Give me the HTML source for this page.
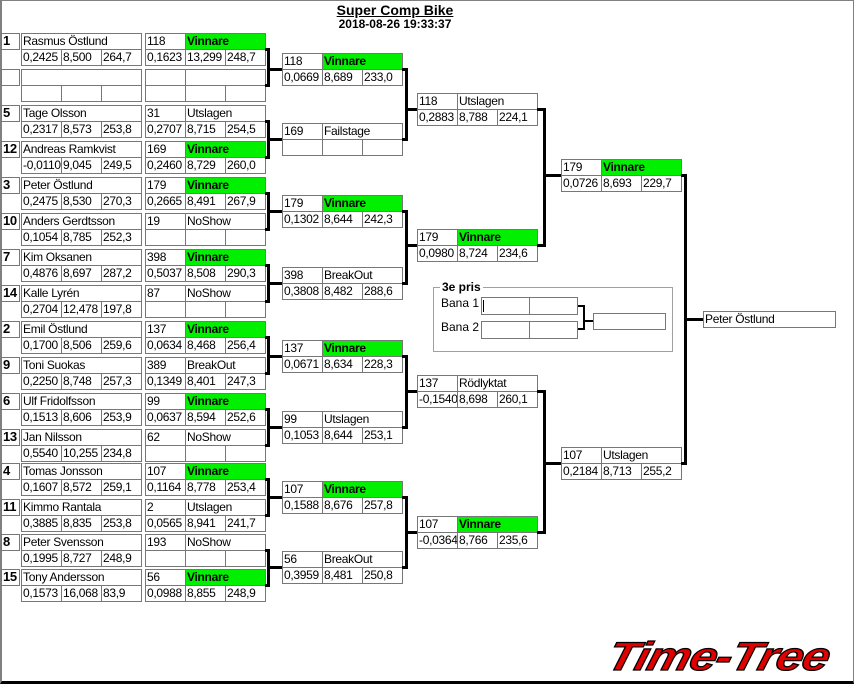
<!DOCTYPE html>
<html><head><meta charset="utf-8"><style>
html,body{margin:0;padding:0;}
body{width:854px;height:684px;position:relative;overflow:hidden;background:#fff;font-family:"Liberation Sans",sans-serif;}
.f{position:absolute;left:0;top:0;width:854px;height:684px;box-sizing:border-box;border-left:2px solid #808080;border-top:1px solid #808080;border-right:1px solid #808080;border-bottom:3px solid #000;}
.c{position:absolute;box-sizing:border-box;border:1px solid #777;height:17px;width:41px;font-size:12px;letter-spacing:-0.3px;line-height:14px;padding-left:1px;white-space:nowrap;overflow:hidden;background:#fff;color:#000;}
.w{width:121px}.w2{width:81px}
.g{background:#00f000;font-weight:bold;}
.s{width:19px;font-weight:bold;font-size:13px;}
.l{position:absolute;background:#000;}
.t{position:absolute;font-weight:bold;font-size:13px;text-align:center;width:300px;left:245px;}
</style></head><body>
<div class="f"></div>
<div class="t" style="top:2px;text-decoration:underline;font-size:14px">Super Comp Bike</div>
<div class="t" style="top:17px;font-size:12px">2018-08-26 19:33:37</div>

<div class="c s" style="left:1px;top:33px">1</div><div class="c w" style="left:21px;top:33px">Rasmus Östlund</div>
<div class="c" style="left:21px;top:49px">0,2425</div><div class="c" style="left:61px;top:49px">8,500</div><div class="c" style="left:101px;top:49px">264,7</div>
<div class="c" style="left:145px;top:33px">118</div><div class="c w2 g" style="left:185px;top:33px">Vinnare</div>
<div class="c" style="left:145px;top:49px">0,1623</div><div class="c" style="left:185px;top:49px">13,299</div><div class="c" style="left:225px;top:49px">248,7</div>

<div class="c s" style="left:1px;top:69px"></div><div class="c w" style="left:21px;top:69px"></div>
<div class="c" style="left:21px;top:85px"></div><div class="c" style="left:61px;top:85px"></div><div class="c" style="left:101px;top:85px"></div>
<div class="c" style="left:145px;top:69px"></div><div class="c w2" style="left:185px;top:69px"></div>
<div class="c" style="left:145px;top:85px"></div><div class="c" style="left:185px;top:85px"></div><div class="c" style="left:225px;top:85px"></div>

<div class="c s" style="left:1px;top:105px">5</div><div class="c w" style="left:21px;top:105px">Tage Olsson</div>
<div class="c" style="left:21px;top:121px">0,2317</div><div class="c" style="left:61px;top:121px">8,573</div><div class="c" style="left:101px;top:121px">253,8</div>
<div class="c" style="left:145px;top:105px">31</div><div class="c w2" style="left:185px;top:105px">Utslagen</div>
<div class="c" style="left:145px;top:121px">0,2707</div><div class="c" style="left:185px;top:121px">8,715</div><div class="c" style="left:225px;top:121px">254,5</div>

<div class="c s" style="left:1px;top:141px">12</div><div class="c w" style="left:21px;top:141px">Andreas Ramkvist</div>
<div class="c" style="left:21px;top:157px">-0,0110</div><div class="c" style="left:61px;top:157px">9,045</div><div class="c" style="left:101px;top:157px">249,5</div>
<div class="c" style="left:145px;top:141px">169</div><div class="c w2 g" style="left:185px;top:141px">Vinnare</div>
<div class="c" style="left:145px;top:157px">0,2460</div><div class="c" style="left:185px;top:157px">8,729</div><div class="c" style="left:225px;top:157px">260,0</div>

<div class="c s" style="left:1px;top:177px">3</div><div class="c w" style="left:21px;top:177px">Peter Östlund</div>
<div class="c" style="left:21px;top:193px">0,2475</div><div class="c" style="left:61px;top:193px">8,530</div><div class="c" style="left:101px;top:193px">270,3</div>
<div class="c" style="left:145px;top:177px">179</div><div class="c w2 g" style="left:185px;top:177px">Vinnare</div>
<div class="c" style="left:145px;top:193px">0,2665</div><div class="c" style="left:185px;top:193px">8,491</div><div class="c" style="left:225px;top:193px">267,9</div>

<div class="c s" style="left:1px;top:213px">10</div><div class="c w" style="left:21px;top:213px">Anders Gerdtsson</div>
<div class="c" style="left:21px;top:229px">0,1054</div><div class="c" style="left:61px;top:229px">8,785</div><div class="c" style="left:101px;top:229px">252,3</div>
<div class="c" style="left:145px;top:213px">19</div><div class="c w2" style="left:185px;top:213px">NoShow</div>
<div class="c" style="left:145px;top:229px"></div><div class="c" style="left:185px;top:229px"></div><div class="c" style="left:225px;top:229px"></div>

<div class="c s" style="left:1px;top:249px">7</div><div class="c w" style="left:21px;top:249px">Kim Oksanen</div>
<div class="c" style="left:21px;top:265px">0,4876</div><div class="c" style="left:61px;top:265px">8,697</div><div class="c" style="left:101px;top:265px">287,2</div>
<div class="c" style="left:145px;top:249px">398</div><div class="c w2 g" style="left:185px;top:249px">Vinnare</div>
<div class="c" style="left:145px;top:265px">0,5037</div><div class="c" style="left:185px;top:265px">8,508</div><div class="c" style="left:225px;top:265px">290,3</div>

<div class="c s" style="left:1px;top:285px">14</div><div class="c w" style="left:21px;top:285px">Kalle Lyrén</div>
<div class="c" style="left:21px;top:301px">0,2704</div><div class="c" style="left:61px;top:301px">12,478</div><div class="c" style="left:101px;top:301px">197,8</div>
<div class="c" style="left:145px;top:285px">87</div><div class="c w2" style="left:185px;top:285px">NoShow</div>
<div class="c" style="left:145px;top:301px"></div><div class="c" style="left:185px;top:301px"></div><div class="c" style="left:225px;top:301px"></div>

<div class="c s" style="left:1px;top:321px">2</div><div class="c w" style="left:21px;top:321px">Emil Östlund</div>
<div class="c" style="left:21px;top:337px">0,1700</div><div class="c" style="left:61px;top:337px">8,506</div><div class="c" style="left:101px;top:337px">259,6</div>
<div class="c" style="left:145px;top:321px">137</div><div class="c w2 g" style="left:185px;top:321px">Vinnare</div>
<div class="c" style="left:145px;top:337px">0,0634</div><div class="c" style="left:185px;top:337px">8,468</div><div class="c" style="left:225px;top:337px">256,4</div>

<div class="c s" style="left:1px;top:357px">9</div><div class="c w" style="left:21px;top:357px">Toni Suokas</div>
<div class="c" style="left:21px;top:373px">0,2250</div><div class="c" style="left:61px;top:373px">8,748</div><div class="c" style="left:101px;top:373px">257,3</div>
<div class="c" style="left:145px;top:357px">389</div><div class="c w2" style="left:185px;top:357px">BreakOut</div>
<div class="c" style="left:145px;top:373px">0,1349</div><div class="c" style="left:185px;top:373px">8,401</div><div class="c" style="left:225px;top:373px">247,3</div>

<div class="c s" style="left:1px;top:393px">6</div><div class="c w" style="left:21px;top:393px">Ulf Fridolfsson</div>
<div class="c" style="left:21px;top:409px">0,1513</div><div class="c" style="left:61px;top:409px">8,606</div><div class="c" style="left:101px;top:409px">253,9</div>
<div class="c" style="left:145px;top:393px">99</div><div class="c w2 g" style="left:185px;top:393px">Vinnare</div>
<div class="c" style="left:145px;top:409px">0,0637</div><div class="c" style="left:185px;top:409px">8,594</div><div class="c" style="left:225px;top:409px">252,6</div>

<div class="c s" style="left:1px;top:429px">13</div><div class="c w" style="left:21px;top:429px">Jan Nilsson</div>
<div class="c" style="left:21px;top:445px">0,5540</div><div class="c" style="left:61px;top:445px">10,255</div><div class="c" style="left:101px;top:445px">234,8</div>
<div class="c" style="left:145px;top:429px">62</div><div class="c w2" style="left:185px;top:429px">NoShow</div>
<div class="c" style="left:145px;top:445px"></div><div class="c" style="left:185px;top:445px"></div><div class="c" style="left:225px;top:445px"></div>

<div class="c s" style="left:1px;top:463px">4</div><div class="c w" style="left:21px;top:463px">Tomas Jonsson</div>
<div class="c" style="left:21px;top:479px">0,1607</div><div class="c" style="left:61px;top:479px">8,572</div><div class="c" style="left:101px;top:479px">259,1</div>
<div class="c" style="left:145px;top:463px">107</div><div class="c w2 g" style="left:185px;top:463px">Vinnare</div>
<div class="c" style="left:145px;top:479px">0,1164</div><div class="c" style="left:185px;top:479px">8,778</div><div class="c" style="left:225px;top:479px">253,4</div>

<div class="c s" style="left:1px;top:499px">11</div><div class="c w" style="left:21px;top:499px">Kimmo Rantala</div>
<div class="c" style="left:21px;top:515px">0,3885</div><div class="c" style="left:61px;top:515px">8,835</div><div class="c" style="left:101px;top:515px">253,8</div>
<div class="c" style="left:145px;top:499px">2</div><div class="c w2" style="left:185px;top:499px">Utslagen</div>
<div class="c" style="left:145px;top:515px">0,0565</div><div class="c" style="left:185px;top:515px">8,941</div><div class="c" style="left:225px;top:515px">241,7</div>

<div class="c s" style="left:1px;top:534px">8</div><div class="c w" style="left:21px;top:534px">Peter Svensson</div>
<div class="c" style="left:21px;top:550px">0,1995</div><div class="c" style="left:61px;top:550px">8,727</div><div class="c" style="left:101px;top:550px">248,9</div>
<div class="c" style="left:145px;top:534px">193</div><div class="c w2" style="left:185px;top:534px">NoShow</div>
<div class="c" style="left:145px;top:550px"></div><div class="c" style="left:185px;top:550px"></div><div class="c" style="left:225px;top:550px"></div>

<div class="c s" style="left:1px;top:569px">15</div><div class="c w" style="left:21px;top:569px">Tony Andersson</div>
<div class="c" style="left:21px;top:585px">0,1573</div><div class="c" style="left:61px;top:585px">16,068</div><div class="c" style="left:101px;top:585px">83,9</div>
<div class="c" style="left:145px;top:569px">56</div><div class="c w2 g" style="left:185px;top:569px">Vinnare</div>
<div class="c" style="left:145px;top:585px">0,0988</div><div class="c" style="left:185px;top:585px">8,855</div><div class="c" style="left:225px;top:585px">248,9</div>

<div class="c" style="left:282px;top:53px">118</div><div class="c w2 g" style="left:322px;top:53px">Vinnare</div>
<div class="c" style="left:282px;top:69px">0,0669</div><div class="c" style="left:322px;top:69px">8,689</div><div class="c" style="left:362px;top:69px">233,0</div>
<div class="c" style="left:282px;top:123px">169</div><div class="c w2" style="left:322px;top:123px">Failstage</div>
<div class="c" style="left:282px;top:139px"></div><div class="c" style="left:322px;top:139px"></div><div class="c" style="left:362px;top:139px"></div>
<div class="c" style="left:282px;top:195px">179</div><div class="c w2 g" style="left:322px;top:195px">Vinnare</div>
<div class="c" style="left:282px;top:211px">0,1302</div><div class="c" style="left:322px;top:211px">8,644</div><div class="c" style="left:362px;top:211px">242,3</div>
<div class="c" style="left:282px;top:267px">398</div><div class="c w2" style="left:322px;top:267px">BreakOut</div>
<div class="c" style="left:282px;top:283px">0,3808</div><div class="c" style="left:322px;top:283px">8,482</div><div class="c" style="left:362px;top:283px">288,6</div>
<div class="c" style="left:282px;top:340px">137</div><div class="c w2 g" style="left:322px;top:340px">Vinnare</div>
<div class="c" style="left:282px;top:356px">0,0671</div><div class="c" style="left:322px;top:356px">8,634</div><div class="c" style="left:362px;top:356px">228,3</div>
<div class="c" style="left:282px;top:411px">99</div><div class="c w2" style="left:322px;top:411px">Utslagen</div>
<div class="c" style="left:282px;top:427px">0,1053</div><div class="c" style="left:322px;top:427px">8,644</div><div class="c" style="left:362px;top:427px">253,1</div>
<div class="c" style="left:282px;top:481px">107</div><div class="c w2 g" style="left:322px;top:481px">Vinnare</div>
<div class="c" style="left:282px;top:497px">0,1588</div><div class="c" style="left:322px;top:497px">8,676</div><div class="c" style="left:362px;top:497px">257,8</div>
<div class="c" style="left:282px;top:551px">56</div><div class="c w2" style="left:322px;top:551px">BreakOut</div>
<div class="c" style="left:282px;top:567px">0,3959</div><div class="c" style="left:322px;top:567px">8,481</div><div class="c" style="left:362px;top:567px">250,8</div>

<div class="c" style="left:417px;top:93px">118</div><div class="c w2" style="left:457px;top:93px">Utslagen</div>
<div class="c" style="left:417px;top:109px">0,2883</div><div class="c" style="left:457px;top:109px">8,788</div><div class="c" style="left:497px;top:109px">224,1</div>
<div class="c" style="left:417px;top:229px">179</div><div class="c w2 g" style="left:457px;top:229px">Vinnare</div>
<div class="c" style="left:417px;top:245px">0,0980</div><div class="c" style="left:457px;top:245px">8,724</div><div class="c" style="left:497px;top:245px">234,6</div>
<div class="c" style="left:417px;top:375px">137</div><div class="c w2" style="left:457px;top:375px">Rödlyktat</div>
<div class="c" style="left:417px;top:391px">-0,1540</div><div class="c" style="left:457px;top:391px">8,698</div><div class="c" style="left:497px;top:391px">260,1</div>
<div class="c" style="left:417px;top:516px">107</div><div class="c w2 g" style="left:457px;top:516px">Vinnare</div>
<div class="c" style="left:417px;top:532px">-0,0364</div><div class="c" style="left:457px;top:532px">8,766</div><div class="c" style="left:497px;top:532px">235,6</div>

<div class="c" style="left:561px;top:159px">179</div><div class="c w2 g" style="left:601px;top:159px">Vinnare</div>
<div class="c" style="left:561px;top:175px">0,0726</div><div class="c" style="left:601px;top:175px">8,693</div><div class="c" style="left:641px;top:175px">229,7</div>
<div class="c" style="left:561px;top:447px">107</div><div class="c w2" style="left:601px;top:447px">Utslagen</div>
<div class="c" style="left:561px;top:463px">0,2184</div><div class="c" style="left:601px;top:463px">8,713</div><div class="c" style="left:641px;top:463px">255,2</div>

<div class="c" style="left:703px;top:311px;width:133px">Peter Östlund</div>

<div class="l" style="left:265px;top:48px;width:5px;height:3px"></div><div class="l" style="left:265px;top:84px;width:5px;height:3px"></div><div class="l" style="left:267px;top:48px;width:3px;height:39px"></div><div class="l" style="left:267px;top:68px;width:15px;height:3px"></div>
<div class="l" style="left:265px;top:120px;width:5px;height:3px"></div><div class="l" style="left:265px;top:156px;width:5px;height:3px"></div><div class="l" style="left:267px;top:120px;width:3px;height:39px"></div><div class="l" style="left:267px;top:138px;width:15px;height:3px"></div>
<div class="l" style="left:265px;top:192px;width:5px;height:3px"></div><div class="l" style="left:265px;top:228px;width:5px;height:3px"></div><div class="l" style="left:267px;top:192px;width:3px;height:39px"></div><div class="l" style="left:267px;top:210px;width:15px;height:3px"></div>
<div class="l" style="left:265px;top:264px;width:5px;height:3px"></div><div class="l" style="left:265px;top:300px;width:5px;height:3px"></div><div class="l" style="left:267px;top:264px;width:3px;height:39px"></div><div class="l" style="left:267px;top:282px;width:15px;height:3px"></div>
<div class="l" style="left:265px;top:336px;width:5px;height:3px"></div><div class="l" style="left:265px;top:372px;width:5px;height:3px"></div><div class="l" style="left:267px;top:336px;width:3px;height:39px"></div><div class="l" style="left:267px;top:355px;width:15px;height:3px"></div>
<div class="l" style="left:265px;top:408px;width:5px;height:3px"></div><div class="l" style="left:265px;top:444px;width:5px;height:3px"></div><div class="l" style="left:267px;top:408px;width:3px;height:39px"></div><div class="l" style="left:267px;top:426px;width:15px;height:3px"></div>
<div class="l" style="left:265px;top:478px;width:5px;height:3px"></div><div class="l" style="left:265px;top:514px;width:5px;height:3px"></div><div class="l" style="left:267px;top:478px;width:3px;height:39px"></div><div class="l" style="left:267px;top:496px;width:15px;height:3px"></div>
<div class="l" style="left:265px;top:549px;width:5px;height:3px"></div><div class="l" style="left:265px;top:584px;width:5px;height:3px"></div><div class="l" style="left:267px;top:549px;width:3px;height:38px"></div><div class="l" style="left:267px;top:566px;width:15px;height:3px"></div>

<div class="l" style="left:402px;top:68px;width:6px;height:3px"></div><div class="l" style="left:402px;top:138px;width:6px;height:3px"></div><div class="l" style="left:405px;top:68px;width:3px;height:73px"></div><div class="l" style="left:405px;top:108px;width:12px;height:3px"></div>
<div class="l" style="left:402px;top:210px;width:6px;height:3px"></div><div class="l" style="left:402px;top:282px;width:6px;height:3px"></div><div class="l" style="left:405px;top:210px;width:3px;height:75px"></div><div class="l" style="left:405px;top:244px;width:12px;height:3px"></div>
<div class="l" style="left:402px;top:355px;width:6px;height:3px"></div><div class="l" style="left:402px;top:426px;width:6px;height:3px"></div><div class="l" style="left:405px;top:355px;width:3px;height:74px"></div><div class="l" style="left:405px;top:390px;width:12px;height:3px"></div>
<div class="l" style="left:402px;top:496px;width:6px;height:3px"></div><div class="l" style="left:402px;top:566px;width:6px;height:3px"></div><div class="l" style="left:405px;top:496px;width:3px;height:73px"></div><div class="l" style="left:405px;top:531px;width:12px;height:3px"></div>

<div class="l" style="left:537px;top:108px;width:9px;height:3px"></div><div class="l" style="left:537px;top:244px;width:9px;height:3px"></div><div class="l" style="left:543px;top:108px;width:3px;height:139px"></div><div class="l" style="left:543px;top:174px;width:18px;height:3px"></div>
<div class="l" style="left:537px;top:390px;width:9px;height:3px"></div><div class="l" style="left:537px;top:531px;width:9px;height:3px"></div><div class="l" style="left:543px;top:390px;width:3px;height:144px"></div><div class="l" style="left:543px;top:462px;width:18px;height:3px"></div>

<div class="l" style="left:681px;top:174px;width:6px;height:3px"></div><div class="l" style="left:681px;top:462px;width:6px;height:3px"></div><div class="l" style="left:684px;top:174px;width:3px;height:291px"></div><div class="l" style="left:684px;top:318px;width:19px;height:3px"></div>

<div style="position:absolute;left:433px;top:287px;width:240px;height:65px;box-sizing:border-box;border:1px solid #a0a0a0;"></div>
<div style="position:absolute;left:440px;top:280px;background:#fff;padding:0 2px;font-weight:bold;font-size:12px;">3e pris</div>
<div style="position:absolute;left:441px;top:296px;font-size:12px;">Bana 1</div>
<div style="position:absolute;left:441px;top:320px;font-size:12px;">Bana 2</div>
<div class="c" style="left:481px;top:297px;width:49px;height:18px"></div><div class="c" style="left:529px;top:297px;width:49px;height:18px"></div>
<div class="c" style="left:481px;top:321px;width:49px;height:18px"></div><div class="c" style="left:529px;top:321px;width:49px;height:18px"></div>
<div class="l" style="left:483px;top:300px;width:1px;height:12px"></div>
<div class="l" style="left:578px;top:305px;width:7px;height:2px"></div><div class="l" style="left:578px;top:328px;width:7px;height:2px"></div>
<div class="l" style="left:583px;top:305px;width:2px;height:25px"></div><div class="l" style="left:583px;top:320px;width:10px;height:2px"></div>
<div class="c" style="left:593px;top:313px;width:73px;"></div>

<div style="position:absolute;left:603px;top:637px;font-family:'Liberation Sans',sans-serif;font-weight:bold;font-style:italic;font-size:40px;line-height:40px;color:#e00000;-webkit-text-stroke:1.2px #000;transform:skewX(-15deg) scaleX(1.22);transform-origin:0 100%;letter-spacing:-1px;white-space:nowrap;">Time-Tree</div>
</body></html>
